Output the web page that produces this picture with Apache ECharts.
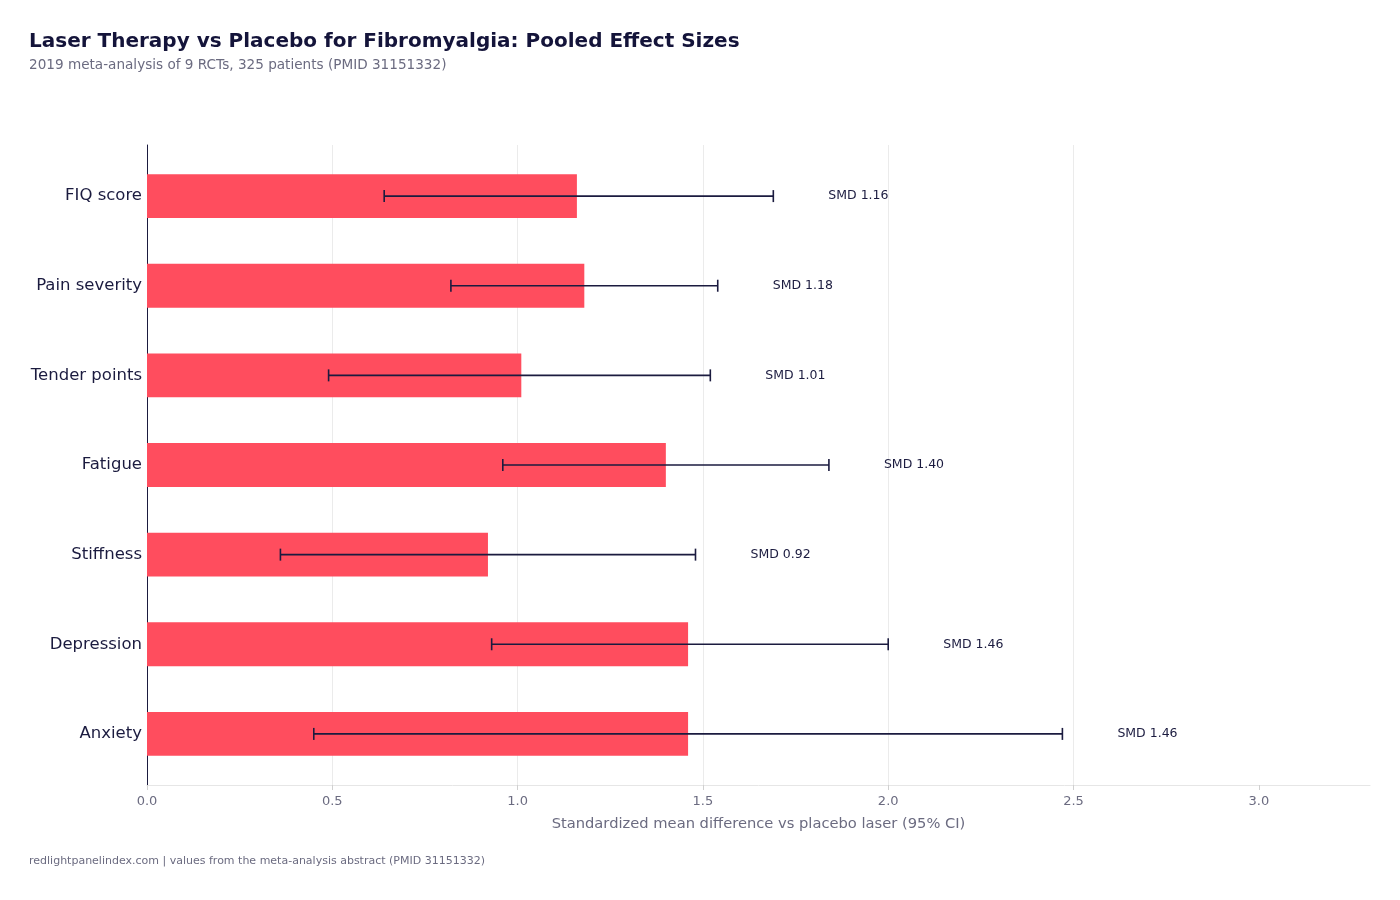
<!DOCTYPE html>
<html><head><meta charset="utf-8">
<script src="https://cdn.jsdelivr.net/npm/echarts@6/dist/echarts.min.js"></script>
<style>html,body{margin:0;padding:0;background:#fff}#c{width:1400px;height:900px}</style>
</head><body><div id="c"></div>
<script>
const categories = ['FIQ score','Pain severity','Tender points','Fatigue','Stiffness','Depression','Anxiety'];
const smd = [1.16, 1.18, 1.01, 1.40, 0.92, 1.46, 1.46];
const ciLow = [0.64, 0.82, 0.49, 0.96, 0.36, 0.93, 0.45];
const ciHigh = [1.69, 1.54, 1.52, 1.84, 1.48, 2.00, 2.47];
const xTicks = [0, 0.5, 1.0, 1.5, 2.0, 2.5, 3.0];

const NAVY = '#1b1b3f';
const GREY = '#6b6b80';
const FONT = 'DejaVu Sans';

const barData = categories.map((c, i) => [smd[i], i]);
const ciData = categories.map((c, i) => [ciLow[i], ciHigh[i], i]);
const labelData = categories.map((c, i) => [ciHigh[i], i, smd[i]]);

const chart = echarts.init(document.getElementById('c'));
chart.setOption({
  backgroundColor: '#ffffff',
  animation: false,
  textStyle: { fontFamily: FONT },
  title: {
    text: 'Laser Therapy vs Placebo for Fibromyalgia: Pooled Effect Sizes',
    subtext: '2019 meta-analysis of 9 RCTs, 325 patients (PMID 31151332)',
    left: 29, top: 32, itemGap: 6, padding: 0,
    textStyle: { fontFamily: FONT, fontSize: 20, fontWeight: 'bold', color: '#14143a' },
    subtextStyle: { fontFamily: FONT, fontSize: 13.6, color: GREY }
  },
  graphic: [{
    type: 'text', left: 29, top: 856,
    style: { text: 'redlightpanelindex.com | values from the meta-analysis abstract (PMID 31151332)',
      font: '11px "DejaVu Sans"', fill: GREY }
  }],
  grid: { left: 147, right: 30, top: 145, bottom: 115 },
  xAxis: {
    type: 'value', min: 0, max: 3.3, interval: 0.5,
    name: 'Standardized mean difference vs placebo laser (95% CI)',
    nameLocation: 'middle', nameGap: 32,
    nameTextStyle: { fontFamily: FONT, fontSize: 14.7, color: GREY },
    axisLine: { show: true, onZero: false, lineStyle: { color: '#e6e6e6', width: 1 } },
    axisTick: { show: true, length: 5, lineStyle: { color: '#d0d0d0' }, customValues: xTicks },
    axisLabel: { customValues: xTicks, formatter: v => v.toFixed(1), color: GREY, fontSize: 13, margin: 10, fontFamily: FONT },
    splitLine: { show: true, showMinLine: false, showMaxLine: false, lineStyle: { color: '#ebebeb', width: 1 } }
  },
  yAxis: {
    type: 'value', inverse: true, min: -0.57, max: 6.57,
    axisLine: { show: true, onZero: false, lineStyle: { color: NAVY, width: 1 } },
    axisTick: { show: false },
    splitLine: { show: false },
    axisLabel: {
      customValues: categories.map((c, i) => i),
      formatter: v => categories[Math.round(v)] || '',
      color: NAVY, fontSize: 16.5, margin: 5, fontFamily: FONT
    }
  },
  series: [
    {
      type: 'custom', name: 'SMD', data: barData, encode: { x: 0, y: 1 },
      renderItem: (params, api) => {
        const i = api.value(1);
        const p0 = api.coord([0, i]);
        const p1 = api.coord([api.value(0), i]);
        const h = api.size([0, 1])[1] * 0.49;
        return { type: 'rect', shape: { x: p0[0], y: p0[1] - h / 2, width: p1[0] - p0[0], height: h },
          style: { fill: '#ff4d5e' } };
      }
    },
    {
      type: 'custom', name: 'CI', data: ciData, encode: { x: [0, 1], y: 2 },
      renderItem: (params, api) => {
        const i = api.value(2);
        const a = api.coord([api.value(0), i]);
        const b = api.coord([api.value(1), i]);
        const cap = 6;
        const st = { stroke: NAVY, lineWidth: 1.6 };
        return { type: 'group', children: [
          { type: 'line', shape: { x1: a[0], y1: a[1], x2: b[0], y2: b[1] }, style: st },
          { type: 'line', shape: { x1: a[0], y1: a[1] - cap, x2: a[0], y2: a[1] + cap }, style: st },
          { type: 'line', shape: { x1: b[0], y1: b[1] - cap, x2: b[0], y2: b[1] + cap }, style: st }
        ] };
      }
    },
    {
      type: 'custom', name: 'labels', data: labelData, encode: { x: 0, y: 1 },
      renderItem: (params, api) => {
        const i = api.value(1);
        const p = api.coord([api.value(0), i]);
        return { type: 'text', x: p[0] + 55, y: p[1],
          style: { text: 'SMD ' + api.value(2).toFixed(2), font: '12.5px "DejaVu Sans"', fill: NAVY,
            textAlign: 'left', textVerticalAlign: 'middle' } };
      }
    }
  ]
});
</script></body></html>
